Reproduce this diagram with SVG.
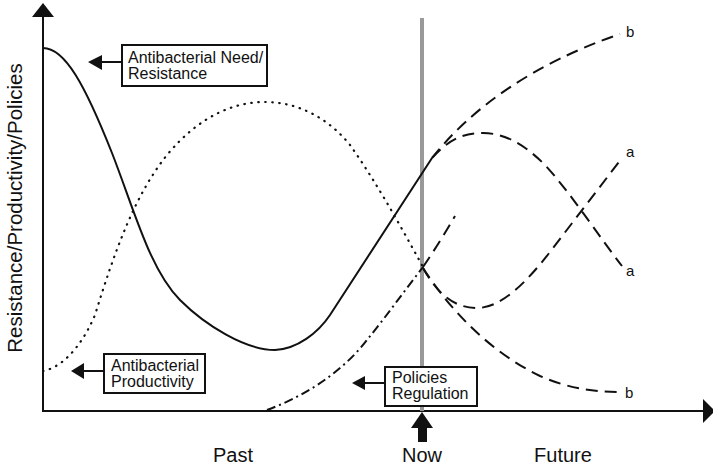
<svg xmlns="http://www.w3.org/2000/svg" width="713" height="468" viewBox="0 0 713 468">
<style>
text{font-family:"Liberation Sans",Arial,sans-serif;fill:#111}
.ax{font-size:20px}
.yl{font-size:20.5px}
.lbl{font-size:16px}
.ab{font-size:15px}
.box{fill:#fff;stroke:#111;stroke-width:2}
.c{fill:none;stroke:#111;stroke-width:2}
.dash{stroke-dasharray:12 7}
.dot{stroke-dasharray:0.5 6.5;stroke-linecap:round;stroke-width:2.2}
.dd{stroke-dasharray:9 4 2 4}
.ah{fill:#111}
</style>
<rect width="713" height="468" fill="#fff"/>
<g id="axes">
<line x1="43" y1="15" x2="43" y2="411" stroke="#111" stroke-width="2"/>
<polygon class="ah" points="43,3 32,17 54,17"/>
<line x1="42" y1="411" x2="705" y2="411" stroke="#111" stroke-width="2"/>
<polygon class="ah" points="715,411 703,399 703,423"/>
<text class="yl" transform="translate(22,208) rotate(-90)" text-anchor="middle">Resistance/Productivity/Policies</text>
<text class="ax" x="233" y="462" text-anchor="middle">Past</text>
<text class="ax" x="422" y="462" text-anchor="middle">Now</text>
<text class="ax" x="563" y="462" text-anchor="middle">Future</text>
</g>
<g id="now-line">
<line x1="422" y1="18" x2="422" y2="411" stroke="#999" stroke-width="4"/>
<polygon class="ah" points="422,412 411,428 433,428"/>
<rect class="ah" x="418" y="427" width="9" height="15"/>
</g>
<g id="connectors">
<path id="resistance" class="c" d="M43,48 C65,48 85,85 112,153 C135,212 150,270 180,300 C205,325 245,350 275,350 C297,349 318,333 330,315 L432,158"/>
<path id="productivity" class="c dot" d="M43,371 C60,368 80,350 95,315 C115,250 135,195 167,155 C200,115 235,102 265,102 C300,102 330,120 350,145 C375,180 400,225 423,267"/>
<path id="policies" class="c dd" d="M267,410 C300,398 340,375 367,340 C385,318 405,290 423,267"/>
<path id="policies-future" class="c dash" d="M423,267 Q440,242 455,216"/>
<path id="res-b" class="c dash" d="M432,158 C470,110 530,65 620,34"/>
<path id="res-a" class="c dash" d="M432,158 C450,138 465,133 483,133 C505,133 525,145 545,165 C570,192 600,238 622,266"/>
<path id="prod-a" class="c dash" d="M423,268 C438,295 455,308 477,308 C500,308 525,285 553,248 L622,158"/>
<path id="prod-b" class="c dash" d="M423,268 C450,310 490,352 540,376 C570,389 595,392 620,392"/>
<text class="ab" x="626" y="37">b</text>
<text class="ab" x="626" y="157">a</text>
<text class="ab" x="626" y="276">a</text>
<text class="ab" x="625" y="398">b</text>
</g>
<g id="label-resistance">
<line x1="100" y1="62" x2="122" y2="62" stroke="#111" stroke-width="2"/>
<polygon class="ah" points="88,62 102,55 102,70"/>
<rect class="box" x="122" y="45" width="145" height="41"/>
<text class="lbl" x="128" y="63">Antibacterial Need/</text>
<text class="lbl" x="128" y="79">Resistance</text>
</g>
<g id="label-productivity">
<line x1="81" y1="371" x2="104" y2="371" stroke="#111" stroke-width="2"/>
<polygon class="ah" points="71,371 84,363 84,379"/>
<rect class="box" x="104" y="354" width="101" height="39"/>
<text class="lbl" x="111" y="371">Antibacterial</text>
<text class="lbl" x="111" y="387">Productivity</text>
</g>
<g id="label-policies">
<line x1="363" y1="383" x2="385" y2="383" stroke="#111" stroke-width="2"/>
<polygon class="ah" points="352,383 365,376 365,390"/>
<rect class="box" x="385" y="367" width="92" height="39"/>
<text class="lbl" x="392" y="383">Policies</text>
<text class="lbl" x="392" y="399">Regulation</text>
</g>
</svg>
